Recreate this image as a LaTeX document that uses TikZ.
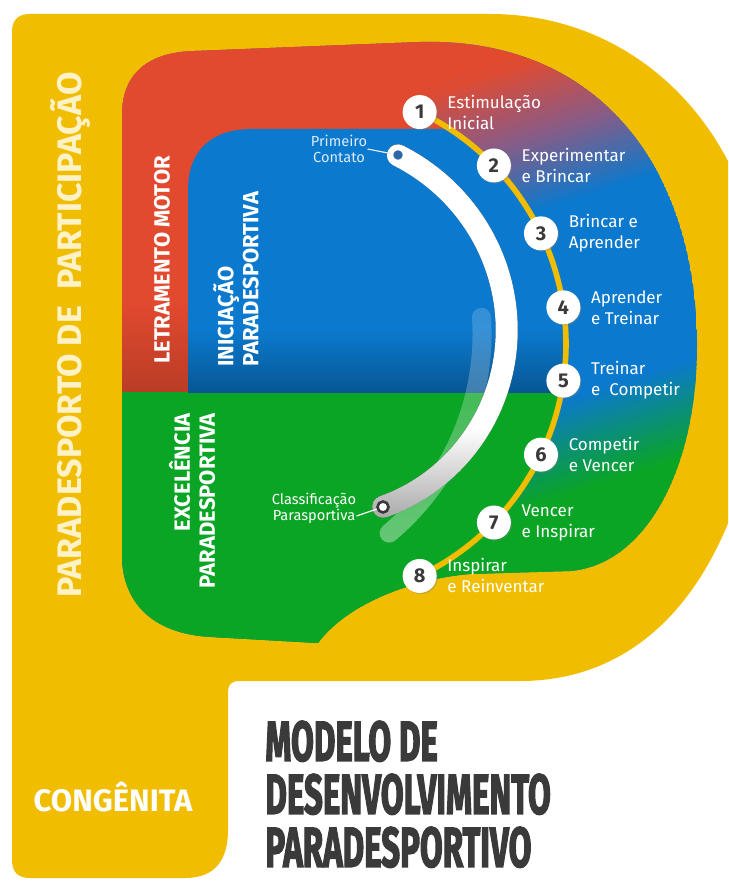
\documentclass[tikz,border=0pt]{standalone}
\usepackage{fontspec}
\setmainfont{Fira Sans}
\newfontfamily\headfont{Fira Sans}[BoldFeatures={FakeBold=3}]
\usetikzlibrary{positioning,fadings,shadows}

\definecolor{pyellow}{HTML}{F1BD00}
\definecolor{pred}{HTML}{E24A2F}
\definecolor{ppurple}{HTML}{8C5B84}
\definecolor{pblue}{HTML}{0B79CD}
\definecolor{pgreen}{HTML}{0AA524}
\definecolor{pcream}{HTML}{FFF2C6}
\definecolor{pdark}{HTML}{3A3A3A}
\definecolor{pdot}{HTML}{2F66A8}
\definecolor{pmark}{HTML}{DDEBFA}

% fadings for the two arcs
\pgfdeclareverticalshading{arcshade}{100bp}{color(0bp)=(black); color(12bp)=(black); color(23bp)=(gray); color(37bp)=(white); color(100bp)=(white)}
\pgfdeclarefading{arcfade}{\pgfuseshading{arcshade}}
\pgfdeclareverticalshading{glowshade}{100bp}{color(0bp)=(white!48!black); color(100bp)=(white!6!black)}
\pgfdeclarefading{glowfade}{\pgfuseshading{glowshade}}

\newcommand\narrow[1]{\scalebox{0.59}[1]{#1}}
\def\dzone{(122,555) -- (122,115) .. controls (122,72) and (150,52) .. (195,51) -- (420,42) .. controls (600,37) and (697,170) .. (697,345) .. controls (697,470) and (645,565) .. (570,571) -- (470,574) .. controls (420,578) and (350,600) .. (318,643) -- (212,637) .. controls (150,634) and (122,600) .. (122,555) -- cycle}

\tikzset{stage/.style={circle, fill=white, minimum size=17pt, inner sep=0pt, text=pdark, font=\bfseries\fontsize{10}{10}\selectfont, drop shadow={opacity=.35, shadow xshift=.6pt, shadow yshift=-.6pt}},
  stagetext/.style={text=white, align=left, inner sep=0pt, font=\fontsize{8.5}{10.5}\selectfont},
  phase/.style={rotate=90, text=white, inner sep=0pt, font=\bfseries\fontsize{11}{12.5}\selectfont},
  marker/.style={align=center, inner sep=0pt, font=\fontsize{7.3}{8}\selectfont},
  titletext/.style={anchor=south west, align=left, inner sep=0pt, text=pdark, font=\headfont\bfseries\fontsize{28}{26.5}\selectfont}}

\begin{document}
\begin{tikzpicture}[x=0.5pt, y=-0.5pt]
\useasboundingbox (0,0) rectangle (728,882);
\clip (0,0) rectangle (728,882);
% the big P
\fill[pyellow] (30,14) -- (490,14) .. controls (650,14) and (770,150) .. (765,330) .. controls (760,520) and (680,681) .. (520,681) -- (240,681) .. controls (231,681) and (228,684) .. (228,694) -- (228,830) .. controls (228,860) and (215,878) .. (185,878) -- (30,878) .. controls (18,878) and (12,872) .. (12,860) -- (12,32) .. controls (12,20) and (18,14) .. (30,14) -- cycle;

\begin{scope}
\clip \dzone;
\fill[pblue] \dzone;
\fill[pred] ({0.3*213+1145},{0.954*213-360}) -- ({0.3*213-1145},{0.954*213+360}) -- (-1500,-1500) -- (1500,-1500) -- cycle;
\fill[pgreen] ({0.3*640+1145},{0.954*640-360}) -- ({0.3*640-1145},{0.954*640+360}) -- (-1500,1800) -- (1500,1800) -- cycle;
\foreach \s in {213,217,...,361}{
  \pgfmathtruncatemacro\p{\s<285 ? 100*(\s-213)/72 : 100*(\s-285)/76}
  \ifnum\s<285 \colorlet{bandc}{ppurple!\p!pred}\else\colorlet{bandc}{pblue!\p!ppurple}\fi
  \fill[bandc] ({0.3*\s+1145},{0.954*\s-360}) -- ({0.3*\s-1145},{0.954*\s+360}) -- ({0.3*(\s+5)-1145},{0.954*(\s+5)+360}) -- ({0.3*(\s+5)+1145},{0.954*(\s+5)-360}) -- cycle;
}
\foreach \s in {548,552,...,636}{
  \pgfmathtruncatemacro\p{100*(\s-548)/92}
  \colorlet{bandc}{pgreen!\p!pblue}
  \fill[bandc] ({0.3*\s+1145},{0.954*\s-360}) -- ({0.3*\s-1145},{0.954*\s+360}) -- ({0.3*(\s+5)-1145},{0.954*(\s+5)+360}) -- ({0.3*(\s+5)+1145},{0.954*(\s+5)-360}) -- cycle;
}
\fill[pred] (0,0) rectangle (420,392);
\fill[pgreen] (0,392) rectangle (420,900);
\begin{scope}
\clip (309,344) circle (128.5pt);
\fill[pred] (0,0) rectangle (800,392);
\shade[top color=pred, bottom color=pred!82!black] (0,300) rectangle (188,392);
\fill[pgreen] (0,392) rectangle (800,900);
\fill[pblue] (188,392) -- (188,190) .. controls (188,150) and (212,129) .. (252,129) -- (800,129) -- (800,392) -- cycle;
\shade[top color=pblue, bottom color=pblue!72!black] (188,330) rectangle (800,392);
\end{scope}
\end{scope}

% path of the stages
\draw[pyellow, line width=2.8pt] plot[smooth, domain=-64.5:66, samples=50] ({309+257*cos(\x)},{344+257*sin(\x)});

% arcs
\draw[white, line width=9.5pt, line cap=round, path fading=glowfade] plot[smooth, domain=-3.7:50, samples=30] ({222+260*cos(\x)},{334+260*sin(\x)});
\draw[pdark, line width=11pt, line cap=round] plot[smooth, domain=-65.6:68, samples=50] ({315+(191.5-0.14*\x)*cos(\x)},{338+(191.5-0.14*\x)*sin(\x)});
\draw[white, line width=11pt, line cap=round, path fading=arcfade] plot[smooth, domain=-65.6:68, samples=50] ({315+(191.5-0.14*\x)*cos(\x)},{338+(191.5-0.14*\x)*sin(\x)});
\node[circle, fill=pdot, draw=white, line width=1.3pt, minimum size=6pt, inner sep=0pt] (d1) at (398,155) {};
\node[circle, fill=white, draw=pdark, line width=1.3pt, minimum size=5.5pt, inner sep=0pt] (d2) at (383,507) {};
\node[marker, text=pmark] (pc) at (339,149) {Primeiro\\Contato};
\node[marker, text=white] (cp) at (314,508) {Classificação\\Parasportiva};
\draw[pmark, line width=.6pt] (pc.east) -- (d1);
\draw[white, line width=.6pt] ([yshift=-4pt]cp.east) -- (d2);

% stages
\foreach \n/\a in {1/-64.5,2/-44,3/-25.5,4/-8.2,5/8.2,6/25.5,7/44,8/64.5}
  \node[stage] (s\n) at ({309+257*cos(\a)},{344+257*sin(\a)}) {\n};
\foreach \n/\txt in {1/{Estimulação\\Inicial},2/{Experimentar\\e Brincar},3/{Brincar e\\Aprender},4/{Aprender\\e Treinar},5/{Treinar\\e\ \ Competir},6/{Competir\\e Vencer},7/{Vencer\\e Inspirar},8/{Inspirar\\e Reinventar}}
  \node[stagetext, right=5pt of s\n] (l\n) {\txt};

% vertical names
\node[rotate=90, text=pcream, inner sep=0pt, font=\bfseries\fontsize{17}{17}\selectfont] (part) at (70,335) {PARADESPORTO DE\ \ PARTICIPAÇÃO};
\node[phase] (letr) at (162,260) {LETRAMENTO MOTOR};
\node[phase, anchor=west, align=left] (inic) at (236,367) {INICIAÇÃO\\PARADESPORTIVA};
\node[phase, anchor=east, align=right] (exce) at (192,413) {EXCELÊNCIA\\PARADESPORTIVA};
\node[text=white, inner sep=0pt, font=\bfseries\fontsize{15.5}{16}\selectfont] (cong) at (113,797) {CONGÊNITA};

% title
\node[titletext] (title) at (265,868) {\narrow{MODELO DE}\\\narrow{DESENVOLVIMENTO}\\\narrow{PARADESPORTIVO}};
\end{tikzpicture}
\end{document}
